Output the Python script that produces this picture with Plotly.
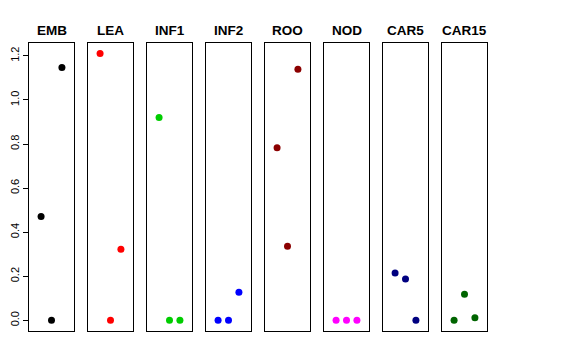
import plotly.graph_objects as go

tissues = ["EMB", "LEA", "INF1", "INF2", "ROO", "NOD", "CAR5", "CAR15"]
colors = ["#000000", "#FF0000", "#00CD00", "#0000FF", "#8B0000", "#FF00FF", "#000080", "#006400"]
positions = [1, 2, 3]
emb = [0.471, 0.0, 1.147]
lea = [1.211, 0.0, 0.323]
inf1 = [0.920, 0.0, 0.0]
inf2 = [0.0, 0.0, 0.127]
roo = [0.783, 0.336, 1.139]
nod = [0.0, 0.0, 0.0]
car5 = [0.215, 0.188, 0.0]
car15 = [0.0, 0.118, 0.012]
values = [emb, lea, inf1, inf2, roo, nod, car5, car15]
yticks = [0.0, 0.2, 0.4, 0.6, 0.8, 1.0, 1.2]
yticklabels = ["0.0", "0.2", "0.4", "0.6", "0.8", "1.0", "1.2"]

# page body has an 8px default margin; figure sized to fit inside the window
W, H = 560, 344
ml, mr, mt, mb = 21, 81, 35, 21
plot_w = W - ml - mr
panel_w = 45
gap = 14

fig = go.Figure()
annotations = []
for i, (name, col, vals) in enumerate(zip(tissues, colors, values)):
    x0 = (i * (panel_w + gap)) / plot_w
    x1 = min((i * (panel_w + gap) + panel_w) / plot_w, 1)
    xa = "xaxis" if i == 0 else f"xaxis{i+1}"
    ya = "yaxis" if i == 0 else f"yaxis{i+1}"
    xref = "x" if i == 0 else f"x{i+1}"
    yref = "y" if i == 0 else f"y{i+1}"
    fig.add_trace(go.Scatter(x=positions, y=vals, mode="markers",
                             marker=dict(color=col, size=7),
                             xaxis=xref, yaxis=yref, showlegend=False,
                             hoverinfo="skip"))
    fig.layout[xa] = dict(domain=[x0, x1], range=[-0.16, 4.16], anchor=yref,
                          showline=True, mirror=True, linecolor="black", linewidth=1,
                          showgrid=False, zeroline=False, showticklabels=False,
                          ticks="", fixedrange=True, automargin=False)
    ydict = dict(range=[-0.0484, 1.2584], anchor=xref,
                 showline=True, mirror=True, linecolor="black", linewidth=1,
                 showgrid=False, zeroline=False, fixedrange=True, automargin=False)
    if i == 0:
        ydict.update(tickvals=yticks, ticktext=yticklabels, ticks="outside",
                     ticklen=5, tickcolor="black", tickangle=-90,
                     tickfont=dict(family="Liberation Sans, Arial, sans-serif", size=11, color="black"))
    else:
        ydict.update(showticklabels=False, ticks="")
    fig.layout[ya] = ydict
    annotations.append(dict(text=f"<b>{name}</b>", x=(x0 + x1) / 2, y=1.0,
                            xref="paper", yref="paper", yshift=13, showarrow=False,
                            xanchor="center", yanchor="middle",
                            font=dict(family="Liberation Sans, Arial, sans-serif", size=13.5, color="black")))

fig.update_layout(template="none", width=W, height=H,
                  margin=dict(l=ml, r=mr, t=mt, b=mb, autoexpand=False),
                  paper_bgcolor="white", plot_bgcolor="white",
                  annotations=annotations)
fig.write_html("out.html")
